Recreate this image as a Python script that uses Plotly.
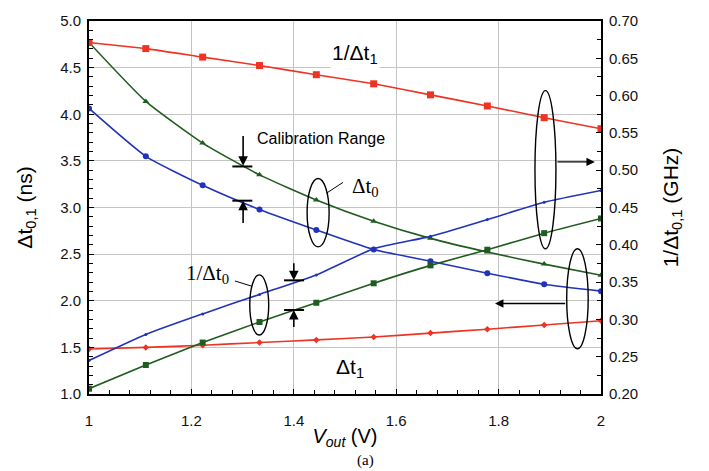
import plotly.graph_objects as go

# ---- data ----
v_out = [1.0, 1.111, 1.222, 1.333, 1.444, 1.556, 1.667, 1.778, 1.889, 2.0]
dt0_green = [4.77, 4.138, 3.691, 3.350, 3.081, 2.853, 2.669, 2.522, 2.393, 2.274]   # ns, triangles
dt0_blue = [4.062, 3.549, 3.238, 2.979, 2.759, 2.550, 2.424, 2.295, 2.177, 2.103]   # ns, circles
dt1_red = [1.482, 1.500, 1.523, 1.552, 1.580, 1.611, 1.653, 1.695, 1.740, 1.785]    # ns, diamonds
inv_dt1_red = [0.6712, 0.6630, 0.6516, 0.6403, 0.6280, 0.6158, 0.6010, 0.5861, 0.5704, 0.5556]  # GHz
inv_dt0_green = [0.2071, 0.2389, 0.2690, 0.2965, 0.3223, 0.3484, 0.3724, 0.3934, 0.4156, 0.4353]  # GHz
inv_dt0_blue = [0.2450, 0.2799, 0.3074, 0.3335, 0.3596, 0.3946, 0.4113, 0.4339, 0.4570, 0.4728]  # GHz

x_ticks = [1, 1.2, 1.4, 1.6, 1.8, 2]
x_tick_labels = ["1", "1.2", "1.4", "1.6", "1.8", "2"]

RED = "#EE3322"
BLUE = "#2233BB"
GREEN = "#1F5C1F"
FONT = "Liberation Sans, Arial, sans-serif"
SERIF = "Liberation Serif, Times New Roman, serif"

fig = go.Figure()

def add(y, color, symbol, size, axis="y", lw=1.6):
    fig.add_trace(go.Scatter(
        x=v_out, y=y, yaxis=axis, mode="lines+markers",
        line=dict(color=color, width=lw, shape="spline", smoothing=0.5),
        marker=dict(color=color, symbol=symbol, size=size),
        showlegend=False, hoverinfo="skip"))

add(dt1_red, RED, "diamond", 5)
add(dt0_green, GREEN, "triangle-up", 6)
add(dt0_blue, BLUE, "circle", 6)
add(inv_dt1_red, RED, "square", 7, "y2")
add(inv_dt0_green, GREEN, "square", 6, "y2")
add(inv_dt0_blue, BLUE, "circle", 3, "y2")

shapes = []
ellipse = lambda x0, x1, y0, y1: dict(type="circle", xref="x", yref="y", x0=x0, x1=x1, y0=y0, y1=y1,
                                       line=dict(color="black", width=1.4), layer="above")
shapes.append(ellipse(1.871, 1.912, 2.557, 4.253))
shapes.append(ellipse(1.933, 1.975, 1.486, 2.557))
shapes.append(ellipse(1.426, 1.469, 2.578, 3.311))
shapes.append(ellipse(1.314, 1.351, 1.632, 2.277))
line = lambda x0, x1, y0, y1, w=1.4: dict(type="line", xref="x", yref="y", x0=x0, x1=x1, y0=y0, y1=y1,
                                           line=dict(color="black", width=w), layer="above")
# leader lines
shapes.append(line(1.464, 1.496, 3.154, 3.269, 1))
shapes.append(line(1.285, 1.318, 2.212, 2.156, 1))
# calibration bars
shapes.append(line(1.280, 1.319, 3.440, 3.440, 2))
shapes.append(line(1.280, 1.319, 3.073, 3.073, 2))
shapes.append(line(1.381, 1.420, 2.219, 2.219, 2))
shapes.append(line(1.381, 1.420, 1.901, 1.901, 2))

annotations = []
def arrow(xh, yh, xt, yt, w=1.4, size=1.2):
    annotations.append(dict(x=xh, y=yh, ax=xt, ay=yt, xref="x", yref="y", axref="x", ayref="y",
                            text="", showarrow=True, arrowhead=2, arrowsize=size, arrowwidth=w,
                            arrowcolor="black"))
arrow(1.988, 3.489, 1.912, 3.489)
arrow(1.793, 1.971, 1.933, 1.971)
arrow(1.301, 3.447, 1.301, 3.782, 1.6)
arrow(1.301, 3.073, 1.301, 2.819, 1.6)
arrow(1.400, 2.219, 1.400, 2.418, 1.6)
arrow(1.400, 1.901, 1.400, 1.702, 1.6)

def label(x, y, text, size, family=FONT, xanchor="center", bg=None):
    d = dict(x=x, y=y, xref="x", yref="y", text=text, showarrow=False, xanchor=xanchor,
             font=dict(family=family, size=size, color="black"))
    if bg:
        d.update(bgcolor=bg, borderpad=1)
    annotations.append(d)

label(1.520, 4.651, "1/Δt<sub>1</sub>", 21, bg="white")
label(1.510, 1.281, "Δt<sub>1</sub>", 21, bg="white")
label(1.541, 3.215, "Δt<sub>0</sub>", 21, family=SERIF)
label(1.232, 2.285, "1/Δt<sub>0</sub>", 21, family=SERIF)
label(1.325, 3.735, "Calibration Range", 16, xanchor="left")
annotations.append(dict(x=0.54, y=-0.15, xref="paper", yref="paper", text="(a)", showarrow=False,
                        yanchor="top", font=dict(family=SERIF, size=15, color="black")))

axis_common = dict(showline=True, linecolor="black", linewidth=2, ticks="inside", tickcolor="black",
                   tickfont=dict(family=FONT, size=15, color="#111"), zeroline=False,
                   ticklabeloverflow="allow")

fig.update_layout(
    width=709, height=471, autosize=False,
    margin=dict(l=89, r=108, t=12, b=77),
    paper_bgcolor="white", plot_bgcolor="white",
    shapes=shapes, annotations=annotations,
    xaxis=dict(range=[1, 2], tickvals=x_ticks, ticktext=x_tick_labels, mirror=True,
               showgrid=True, gridcolor="#C4C4C4", gridwidth=1, ticklen=5,
               minor=dict(dtick=0.04, ticks="inside", ticklen=4, tickcolor="black", showgrid=False),
               ticklabelstandoff=12,
               title=dict(text="<i>V</i><sub><i>out</i></sub> (V)",
                          font=dict(family=FONT, size=20, color="black"), standoff=1),
               **axis_common),
    yaxis=dict(range=[1, 5], dtick=0.5, tickformat=".1f", showgrid=True, gridcolor="#C4C4C4",
               gridwidth=1, ticklen=5, ticklabelstandoff=3,
               minor=dict(dtick=0.1, ticks="inside", ticklen=4, tickcolor="black", showgrid=False),
               title=dict(text="Δt<sub>0,1</sub> (ns)", font=dict(family=FONT, size=21, color="black"),
                          standoff=22),
               **axis_common),
    yaxis2=dict(range=[0.2, 0.7], dtick=0.05, tickformat=".2f", overlaying="y", side="right",
                showgrid=False, ticklen=5, ticklabelstandoff=3,
                minor=dict(dtick=0.025, ticks="inside", ticklen=4, tickcolor="black", showgrid=False),
                title=dict(text="1/Δt<sub>0,1</sub> (GHz)", font=dict(family=FONT, size=21, color="black"),
                           standoff=26),
                **axis_common),
)

fig.write_html("out.html", config={"displayModeBar": False},
               post_script="document.body.style.margin='0px';"
                           "document.documentElement.style.overflow='hidden';")
